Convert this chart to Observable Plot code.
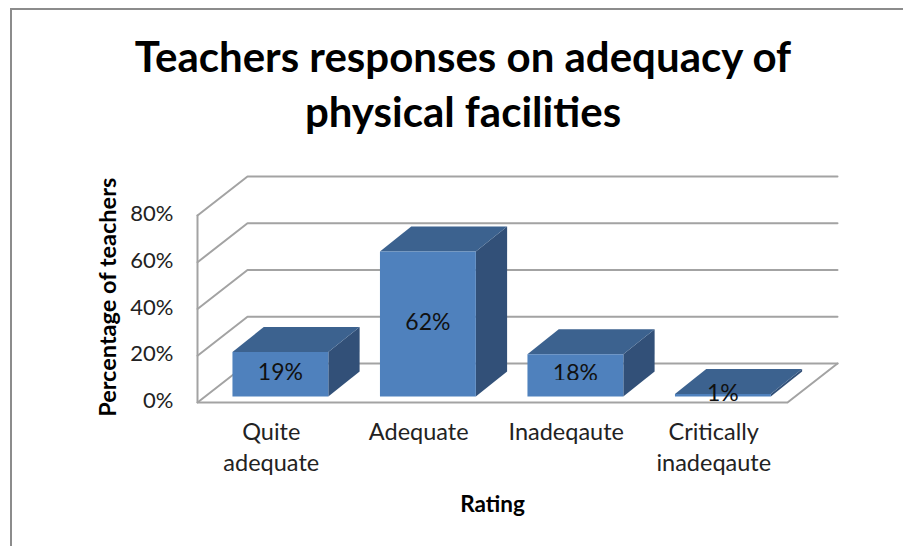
<!DOCTYPE html>
<html>
<head>
<meta charset="utf-8">
<script src="https://cdn.jsdelivr.net/npm/d3@7"></script>
<script src="https://cdn.jsdelivr.net/npm/@observablehq/plot@0.6"></script>
<style>
  html, body { margin: 0; padding: 0; background: #fff; overflow: hidden; }
  #frame { position: absolute; left: 10px; top: 8px; right: -10px; bottom: -10px;
           border: 2.5px solid #8c8c8c; }
  #title { position: absolute; left: 0; top: 0; width: 926px; height: 150px; margin: 0;
           padding-top: 29px; box-sizing: border-box; text-align: center;
           font: bold 42px/54.5px Lato, sans-serif; color: #000; }
  #chart { position: absolute; left: 0; top: 150px; }
  #chart svg { display: block; }
</style>
</head>
<body>
<div id="frame"></div>
<h1 id="title">Teachers responses on adequacy of<br>physical facilities</h1>
<div id="chart"></div>
<script>
const categories = ["Quite\nadequate", "Adequate", "Inadeqaute", "Critically\ninadeqaute"];
const values = [19, 62, 18, 1];
const yTicks = [0, 20, 40, 60, 80];

// Oblique projection of the 3-D look, in data units of the two scales
const wallDepthX = 0.339, wallDepthY = 16.7;
const barDepthX = 0.212, barDepthY = 10.7;
const barStart = 0.237, barWidth = 0.65, barBase = 2.6;

const wallLines = [];
yTicks.forEach(t => {
  wallLines.push({k: "g" + t, x: 0, y: t});
  wallLines.push({k: "g" + t, x: wallDepthX, y: t + wallDepthY});
  wallLines.push({k: "g" + t, x: categories.length + wallDepthX, y: t + wallDepthY});
});
[[0, 80], [0, 0], [categories.length, 0], [categories.length + wallDepthX, wallDepthY]]
  .forEach(([x, y]) => wallLines.push({k: "floor", x, y}));

const faces = [];
values.forEach((v, i) => {
  const x0 = i + barStart, x1 = x0 + barWidth, y0 = barBase, y1 = barBase + v;
  const dx = barDepthX, dy = barDepthY;
  const face = (name, color, pts) => pts.forEach(([x, y]) => faces.push({k: name + i, color, x, y}));
  face("side", "#325078", [[x1, y0], [x1 + dx, y0 + dy], [x1 + dx, y1 + dy], [x1, y1]]);
  face("top", "#3c628f", [[x0, y1], [x0 + dx, y1 + dy], [x1 + dx, y1 + dy], [x1, y1]]);
  face("front", "#4f81bd", [[x0, y0], [x1, y0], [x1, y1], [x0, y1]]);
});

const labels = values.map((v, i) => ({
  x: i + barStart + barWidth / 2,
  y: barBase + v / 2,
  text: v + "%"
}));

const fontFamily = "Lato, sans-serif";

const plot = Plot.plot({
  width: 903,
  height: 396,
  marginLeft: 197,
  marginRight: 116,
  marginTop: 65,
  marginBottom: 144,
  style: {fontFamily, fontSize: "22px", color: "#222", background: "transparent", overflow: "visible"},
  x: {domain: [0, categories.length], axis: null},
  y: {domain: [0, 80], axis: null},
  marks: [
    Plot.line(wallLines, {x: "x", y: "y", z: "k", stroke: "#a3a3a3", strokeWidth: 2, curve: "linear"}),
    Plot.line(faces, {x: "x", y: "y", z: "k", fill: "color", stroke: null, curve: "linear"}),
    Plot.axisY({
      ticks: yTicks, tickSize: 0, tickPadding: 24, label: null, dy: -1.5,
      tickFormat: d => d + "%", fontSize: 22, fill: "#222"
    }),
    Plot.axisX({
      ticks: categories.map((_, i) => i + 0.5),
      tickFormat: d => categories[d - 0.5],
      tickSize: 0, tickPadding: 15, lineHeight: 1.33, fontSize: 23.5, fill: "#222",
      label: null
    }),
    Plot.text(labels, {x: "x", y: "y", dy: -1.5, text: "text", fontSize: 23, fill: "#111"}),
    Plot.text(["Rating"], {
      x: [2], frameAnchor: "bottom", dy: 102, lineAnchor: "middle",
      text: d => d, fontSize: 22.5, fontWeight: "bold", fill: "#000"
    }),
    Plot.text(["Percentage of teachers"], {
      y: [45], frameAnchor: "left", dx: -89, rotate: -90, textAnchor: "middle",
      text: d => d, fontSize: 23.5, fontWeight: "bold", fill: "#000"
    })
  ]
});
document.getElementById("chart").appendChild(plot);

// The reference cuts off the feet of the two lowest labels
d3.select(plot).selectAll("text").filter(function () {
  return this.textContent === "18%" || this.textContent === "1%";
}).each(function () {
  const box = this.getBBox();
  const visible = this.textContent === "18%" ? 0.78 : 0.82;
  d3.select(this).style("clip-path", `inset(0 0 ${box.height * (1 - visible)}px 0)`);
});
</script>
</body>
</html>
